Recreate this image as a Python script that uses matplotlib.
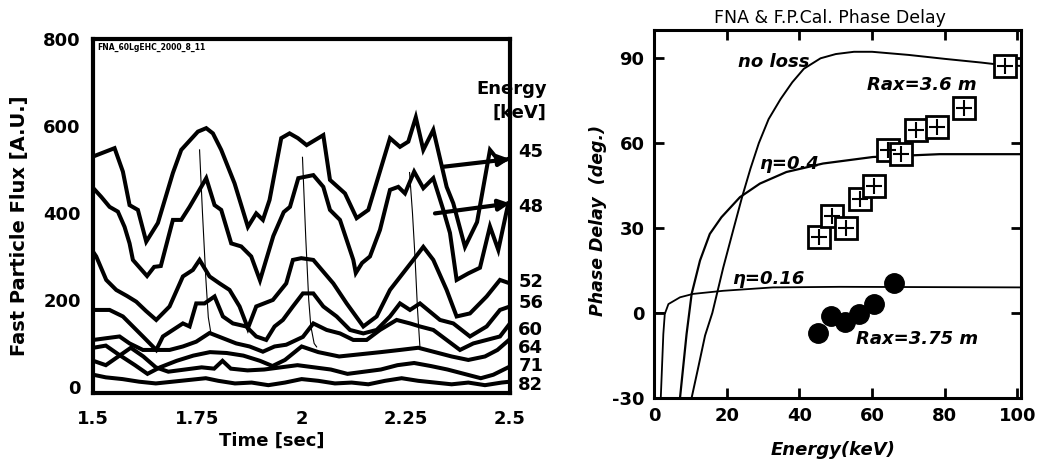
import matplotlib
matplotlib.use("Agg")
import matplotlib.pyplot as plt
import matplotlib.transforms as mtransforms

plt.rcParams['font.family'] = ['DejaVu Sans']
plt.rcParams['axes.unicode_minus'] = False

# ---- left panel: fast particle flux vs time, one trace per energy channel
t45 = [1.500, 1.551, 1.571, 1.587, 1.607, 1.627, 1.655, 1.691, 1.711, 1.751, 1.771, 1.787, 1.807, 1.839,
       1.871, 1.891, 1.907, 1.923, 1.951, 1.971, 1.991, 2.012, 2.052, 2.068, 2.104, 2.132, 2.160, 2.212,
       2.236, 2.256, 2.274, 2.292, 2.316, 2.348, 2.364, 2.392, 2.421, 2.452, 2.476, 2.500]
f45 = [530, 549, 495, 418, 407, 334, 377, 492, 545, 587, 595, 583, 545, 468,
       368, 399, 384, 430, 572, 583, 572, 556, 579, 476, 445, 388, 407, 572,
       552, 564, 620, 545, 591, 460, 422, 322, 379, 545, 517, 526]

t48 = [1.500, 1.519, 1.539, 1.559, 1.575, 1.587, 1.595, 1.629, 1.646, 1.662, 1.691, 1.711, 1.731, 1.759,
       1.771, 1.791, 1.807, 1.831, 1.855, 1.879, 1.900, 1.932, 1.957, 1.972, 1.992, 2.028, 2.052, 2.068,
       2.092, 2.124, 2.130, 2.145, 2.164, 2.188, 2.212, 2.232, 2.248, 2.270, 2.292, 2.316, 2.340, 2.356,
       2.372, 2.400, 2.428, 2.452, 2.472, 2.496]
f48 = [457, 437, 414, 403, 368, 330, 292, 255, 276, 278, 384, 384, 414, 460,
       480, 418, 407, 330, 323, 300, 245, 347, 402, 414, 480, 487, 460, 407,
       384, 292, 262, 285, 300, 361, 453, 460, 445, 495, 457, 480, 407, 354,
       246, 261, 274, 369, 315, 422]

t52 = [1.500, 1.507, 1.531, 1.555, 1.581, 1.603, 1.626, 1.651, 1.683, 1.715, 1.739, 1.755, 1.779, 1.803,
       1.827, 1.851, 1.871, 1.891, 1.931, 1.963, 1.979, 1.999, 2.028, 2.076, 2.108, 2.148, 2.180, 2.212,
       2.268, 2.292, 2.316, 2.348, 2.372, 2.404, 2.444, 2.476, 2.500]
f52 = [310, 300, 246, 223, 209, 196, 175, 154, 185, 254, 269, 292, 254, 238,
       223, 185, 135, 185, 200, 238, 292, 296, 292, 238, 192, 139, 162, 223,
       292, 322, 292, 223, 162, 169, 208, 246, 238]

t56 = [1.500, 1.539, 1.571, 1.619, 1.651, 1.667, 1.691, 1.715, 1.731, 1.747, 1.767, 1.791, 1.811, 1.835,
       1.867, 1.891, 1.915, 1.935, 1.955, 1.979, 2.003, 2.028, 2.052, 2.084, 2.116, 2.148, 2.180, 2.212,
       2.236, 2.260, 2.284, 2.332, 2.364, 2.404, 2.444, 2.476, 2.500]
f56 = [177, 177, 162, 116, 85, 116, 131, 146, 139, 192, 192, 208, 162, 146,
       139, 116, 108, 139, 154, 185, 215, 215, 185, 162, 131, 123, 131, 162,
       192, 177, 192, 154, 146, 116, 139, 177, 185]

t60 = [1.500, 1.531, 1.563, 1.587, 1.619, 1.651, 1.683, 1.715, 1.747, 1.779, 1.811, 1.843, 1.875, 1.907,
       1.935, 1.963, 2.003, 2.028, 2.060, 2.092, 2.124, 2.156, 2.188, 2.228, 2.260, 2.284, 2.316, 2.348,
       2.380, 2.412, 2.444, 2.476, 2.500]
f60 = [108, 112, 116, 100, 85, 85, 85, 93, 104, 124, 112, 100, 93, 81,
       93, 97, 115, 146, 131, 123, 108, 108, 131, 154, 146, 139, 131, 108,
       85, 100, 108, 116, 146]

t64 = [1.50, 1.53, 1.56, 1.60, 1.63, 1.66, 1.70, 1.74, 1.78, 1.82, 1.86, 1.90, 1.93, 1.96,
       2.00, 2.04, 2.09, 2.14, 2.19, 2.236, 2.28, 2.32, 2.36, 2.40, 2.44, 2.47, 2.50]
f64 = [90, 95, 75, 50, 30, 45, 60, 72, 80, 78, 72, 60, 48, 62,
       93, 80, 70, 75, 80, 85, 90, 80, 70, 62, 70, 85, 110]

t71 = [1.50, 1.53, 1.56, 1.59, 1.62, 1.65, 1.68, 1.72, 1.76, 1.79, 1.81, 1.83, 1.87, 1.91, 1.95,
       1.99, 2.03, 2.07, 2.11, 2.15, 2.19, 2.23, 2.27, 2.31, 2.35, 2.39, 2.43, 2.46, 2.50]
f71 = [60, 50, 70, 90, 70, 45, 35, 40, 45, 42, 60, 42, 38, 40, 45,
       50, 45, 40, 30, 35, 40, 50, 55, 48, 40, 30, 20, 28, 47]

t82 = [1.50, 1.53, 1.57, 1.61, 1.65, 1.69, 1.73, 1.77, 1.80, 1.84, 1.88, 1.92, 1.96, 2.00,
       2.04, 2.08, 2.12, 2.16, 2.20, 2.24, 2.28, 2.32, 2.36, 2.40, 2.44, 2.48, 2.50]
f82 = [28, 22, 18, 12, 8, 12, 16, 20, 14, 8, 10, 4, 10, 18,
       14, 8, 10, 6, 14, 20, 14, 10, 6, 10, 4, 10, 12]

energy_labels = ['45', '48', '52', '56', '60', '64', '71', '82']
label_y = [540, 414, 242, 193, 131, 89, 47, 5]

# thin phase-tracking lines
thin_t = [[1.755, 1.762, 1.770, 1.776, 1.782],
          [2.002, 2.010, 2.017, 2.022, 2.030, 2.036],
          [2.259, 2.266, 2.272, 2.278, 2.284]]
thin_f = [[545, 400, 250, 160, 125],
          [528, 340, 200, 140, 100, 92],
          [493, 400, 300, 180, 90]]

# ---- right panel: phase delay vs energy
e_noloss = [10.3, 12, 14, 16, 19, 21.9, 24.2, 26.5, 28.8, 31.5, 34.8, 38, 41.2, 45.8, 50, 55, 60, 70,
            80, 90, 96, 101]
p_noloss = [-30, -20, -8, 0, 16, 30, 41, 51, 60, 68.5, 75.6, 81.5, 86.3, 90, 91.5, 92.3, 92.3, 91.2,
            89.8, 88.5, 87.6, 87.3]
e_eta04 = [7.1, 8.9, 10.3, 12.6, 15.3, 18.5, 23.6, 29.1, 36.4, 46.5, 60.2, 78.6, 101]
p_eta04 = [-30, -7.5, 6.7, 18.5, 27.9, 33.8, 40.9, 45.7, 49.8, 52.8, 55.1, 56.1, 56.1]
e_eta016 = [1.8, 2.5, 2.9, 3.9, 7.1, 10.7, 19.0, 32.7, 51.1, 101]
p_eta016 = [-30, -7.5, -0.4, 3.1, 5.5, 6.7, 7.8, 9.0, 9.2, 9.0]
e_flat = [0, 2.9]
p_flat = [0, 0]

e_rax36 = [45.3, 48.9, 52.9, 56.6, 60.4, 64.3, 68.0, 72.0, 77.9, 85.2, 96.7]
p_rax36 = [26.7, 34.2, 30.1, 40.1, 44.9, 57.5, 56.1, 64.8, 65.8, 72.3, 87.2]
e_rax375 = [45.0, 48.8, 52.4, 56.3, 60.4, 66.1]
p_rax375 = [-7.2, -1.1, -3.4, -0.4, 3.1, 10.5]

fig = plt.figure(figsize=(10.38, 4.61), dpi=100)

# left axes
ax1 = fig.add_axes([0.0899, 0.1475, 0.4014, 0.7679])
for t, f in [(t45, f45), (t48, f48), (t52, f52), (t56, f56), (t60, f60), (t64, f64), (t71, f71), (t82, f82)]:
    ax1.plot(t, f, color='black', lw=2.9, solid_joinstyle='miter')
for t, f in zip(thin_t, thin_f):
    ax1.plot(t, f, color='black', lw=0.8)
ax1.annotate('', xy=(2.50, 524), xytext=(2.338, 506),
             arrowprops=dict(arrowstyle='-|>', lw=3, color='black', mutation_scale=16, shrinkA=0, shrinkB=0))
ax1.annotate('', xy=(2.50, 422), xytext=(2.32, 399),
             arrowprops=dict(arrowstyle='-|>', lw=3, color='black', mutation_scale=16, shrinkA=0, shrinkB=0))
ax1.set_xlim(1.5, 2.5)
ax1.set_ylim(-14, 800)
ax1.set_xticks([1.5, 1.75, 2, 2.25, 2.5])
ax1.set_xticklabels(['1.5', '1.75', '2', '2.25', '2.5'])
ax1.set_yticks([0, 200, 400, 600, 800])
ax1.tick_params(axis='x', length=0, pad=12)
ax1.tick_params(axis='y', length=0, pad=9)
for lab in ax1.get_xticklabels() + ax1.get_yticklabels():
    lab.set_fontsize(13)
    lab.set_fontweight('bold')
for s in ax1.spines.values():
    s.set_linewidth(3)

trans = mtransforms.blended_transform_factory(ax1.transAxes, ax1.transData)
for lab, y in zip(energy_labels, label_y):
    ax1.text(1.02, y, lab, transform=trans, fontsize=13, fontweight='bold', va='center', ha='left',
             clip_on=False)
ax1.text(1.088, 685, 'Energy', transform=trans, fontsize=13, fontweight='bold', ha='right', va='center')
ax1.text(1.088, 630, '[keV]', transform=trans, fontsize=13, fontweight='bold', ha='right', va='center')
ax1.text(0.01, 0.975, 'FNA_60LgEHC_2000_8_11', transform=ax1.transAxes, fontsize=5.5,
         fontweight='bold', va='center')

fig.text(20 / 1038, 1 - 226 / 461, 'Fast Particle Flux [A.U.]', rotation=90, fontsize=14,
         fontweight='bold', ha='center', va='center')
fig.text(272 / 1038, 1 - 441 / 461, 'Time [sec]', fontsize=13, fontweight='bold', ha='center', va='center')

# right axes
ax2 = fig.add_axes([0.6303, 0.1373, 0.3533, 0.7976])
ax2.plot(e_noloss, p_noloss, color='black', lw=1.4)
ax2.plot(e_eta04, p_eta04, color='black', lw=1.6)
ax2.plot(e_eta016, p_eta016, color='black', lw=1.3)
ax2.plot(e_flat, p_flat, color='black', lw=1.3)
ax2.plot(e_rax36, p_rax36, ls='none', marker='s', ms=16, mfc='white', mec='black', mew=2.0)
ax2.plot(e_rax36, p_rax36, ls='none', marker='+', ms=11, mec='black', mew=1.5)
ax2.plot(e_rax375, p_rax375, ls='none', marker='o', ms=14, color='black')
ax2.set_xlim(0, 101)
ax2.set_ylim(-30, 100)
ax2.set_xticks([0, 20, 40, 60, 80, 100])
ax2.set_yticks([-30, 0, 30, 60, 90])
ax2.tick_params(direction='in', length=7, width=2, top=True, right=True, pad=7)
for lab in ax2.get_xticklabels() + ax2.get_yticklabels():
    lab.set_fontsize(13)
    lab.set_fontweight('bold')
for s in ax2.spines.values():
    s.set_linewidth(2.2)

ax2.text(32.9, 88.8, 'no loss', fontsize=13, style='italic', fontweight='bold', ha='center', va='center')
ax2.text(73.6, 80.5, 'Rax=3.6 m', fontsize=13, style='italic', fontweight='bold', ha='center', va='center')
ax2.text(37.1, 52.8, 'η=0.4', fontsize=13, style='italic', fontweight='bold', ha='center', va='center')
ax2.text(31.4, 12.0, 'η=0.16', fontsize=13, style='italic', fontweight='bold', ha='center', va='center')
ax2.text(72.4, -9.3, 'Rax=3.75 m', fontsize=13, style='italic', fontweight='bold', ha='center', va='center')

fig.text(830 / 1038, 1 - 18 / 461, 'FNA & F.P.Cal. Phase Delay', fontsize=12.5, ha='center', va='center')
fig.text(598 / 1038, 1 - 220 / 461, 'Phase Delay  (deg.)', rotation=90, fontsize=12.5, style='italic',
         fontweight='bold', ha='center', va='center')
fig.text(833 / 1038, 1 - 450 / 461, 'Energy(keV)', fontsize=13, style='italic', fontweight='bold',
         ha='center', va='center')

fig.savefig('out.png', dpi=100)
